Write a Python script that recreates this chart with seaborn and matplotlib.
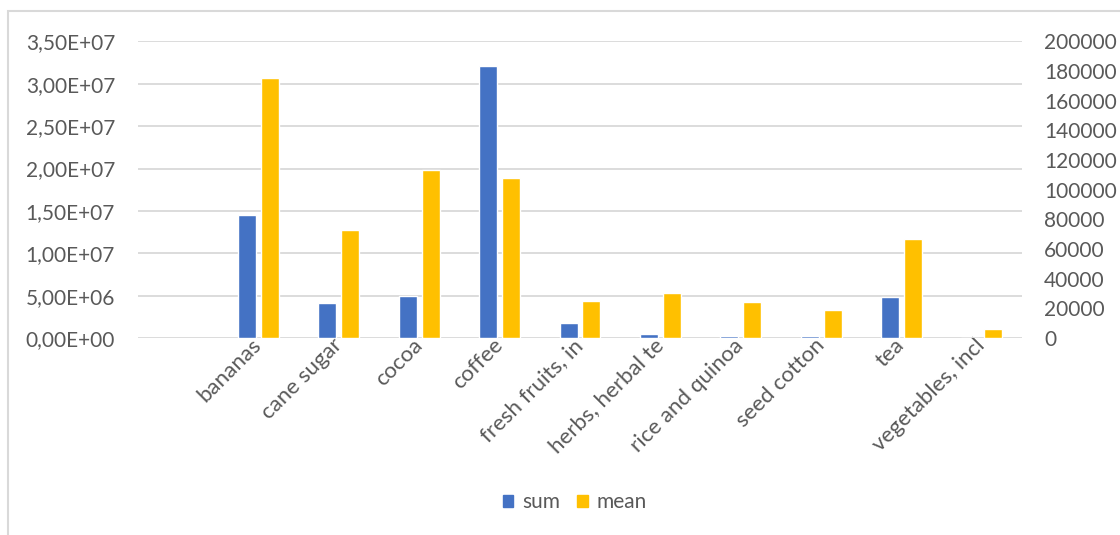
import matplotlib
matplotlib.use("Agg")
import matplotlib.pyplot as plt
from matplotlib.patches import Rectangle
import numpy as np
import pandas as pd
import seaborn as sns

categories = ["", "bananas", "cane sugar", "cocoa", "coffee", "fresh fruits, in",
              "herbs, herbal te", "rice and quinoa", "seed cotton", "tea", "vegetables, incl"]
sum_values = [np.nan, 1.45e7, 4.1e6, 5.0e6, 3.21e7, 1.8e6, 4.8e5, 2.5e5, 2.5e5, 4.85e6, 2.0e4]
mean_values = [np.nan, 175400, 72800, 113000, 108200, 24900, 30200, 24400, 19100, 67000, 6100]
left_ticks = [0, 5e6, 1e7, 1.5e7, 2e7, 2.5e7, 3e7, 3.5e7]
right_ticks = [0, 20000, 40000, 60000, 80000, 100000, 120000, 140000, 160000, 180000, 200000]

BLUE = "#4472C4"
YELLOW = "#FFC000"
GRID = "#D9D9D9"
TEXT = "#595959"

sns.set_theme(style="white")
plt.rcParams["font.family"] = ["Lato", "DejaVu Sans"]

df = pd.DataFrame({"category": categories, "sum": sum_values, "mean": mean_values})

W, H = 1120, 535
fig = plt.figure(figsize=(W / 100, H / 100), dpi=100)
ax1 = fig.add_axes([138 / W, (H - 338) / H, (1022 - 138) / W, 296.6 / H])
ax2 = ax1.twinx()

bw = 0.224
off = 0.143
sns.barplot(data=df, x="category", y="sum", order=categories, color=BLUE,
            saturation=1, width=bw, errorbar=None, ax=ax1)
for p in ax1.patches:
    p.set_x(p.get_x() - off)
sns.barplot(data=df, x="category", y="mean", order=categories, color=YELLOW,
            saturation=1, width=bw, errorbar=None, ax=ax2)
for p in ax2.patches:
    p.set_x(p.get_x() + off)

ax1.set_xlim(-0.5, len(categories) - 0.5)
ax1.set_ylim(0, 3.5e7)
ax2.set_ylim(0, 200000)
ax1.set_yticks(left_ticks)
ax1.set_yticklabels([f"{v:.2E}".replace(".", ",") for v in left_ticks])
ax2.set_yticks(right_ticks)
ax2.set_yticklabels([f"{int(v)}" for v in right_ticks])

ax1.yaxis.grid(True, color=GRID, linewidth=1.3)
ax1.xaxis.grid(False)
ax2.grid(False)
ax1.set_axisbelow(True)
for ax in (ax1, ax2):
    for s in ax.spines.values():
        s.set_visible(False)
    ax.set_xlabel("")
    ax.set_ylabel("")
    ax.tick_params(length=0, colors=TEXT, labelsize=15)
ax1.tick_params(axis="y", pad=16.5)
ax2.tick_params(axis="y", pad=16)
ax1.tick_params(axis="x", pad=3)

ax1.set_xticks(range(len(categories)))
ax1.set_xticklabels(categories, rotation=45, ha="right", va="center",
                    rotation_mode="anchor", color=TEXT, fontsize=16)

handles = [Rectangle((0, 0), 1, 1, color=BLUE), Rectangle((0, 0), 1, 1, color=YELLOW)]
leg = fig.legend(handles, ["sum", "mean"], loc="center", bbox_to_anchor=(575 / W, 1 - 502 / H),
                 ncol=2, frameon=False, fontsize=15, handlelength=0.5, handleheight=0.5,
                 handletextpad=0.45, columnspacing=0.8)
for t in leg.get_texts():
    t.set_color(TEXT)

fig.add_artist(Rectangle((8 / W, -0.05), 1.2, 1.05 - 11 / H + 0.0, transform=fig.transFigure,
                         fill=False, edgecolor=GRID, linewidth=1.5))

fig.savefig("out.png", dpi=100, facecolor="white")
